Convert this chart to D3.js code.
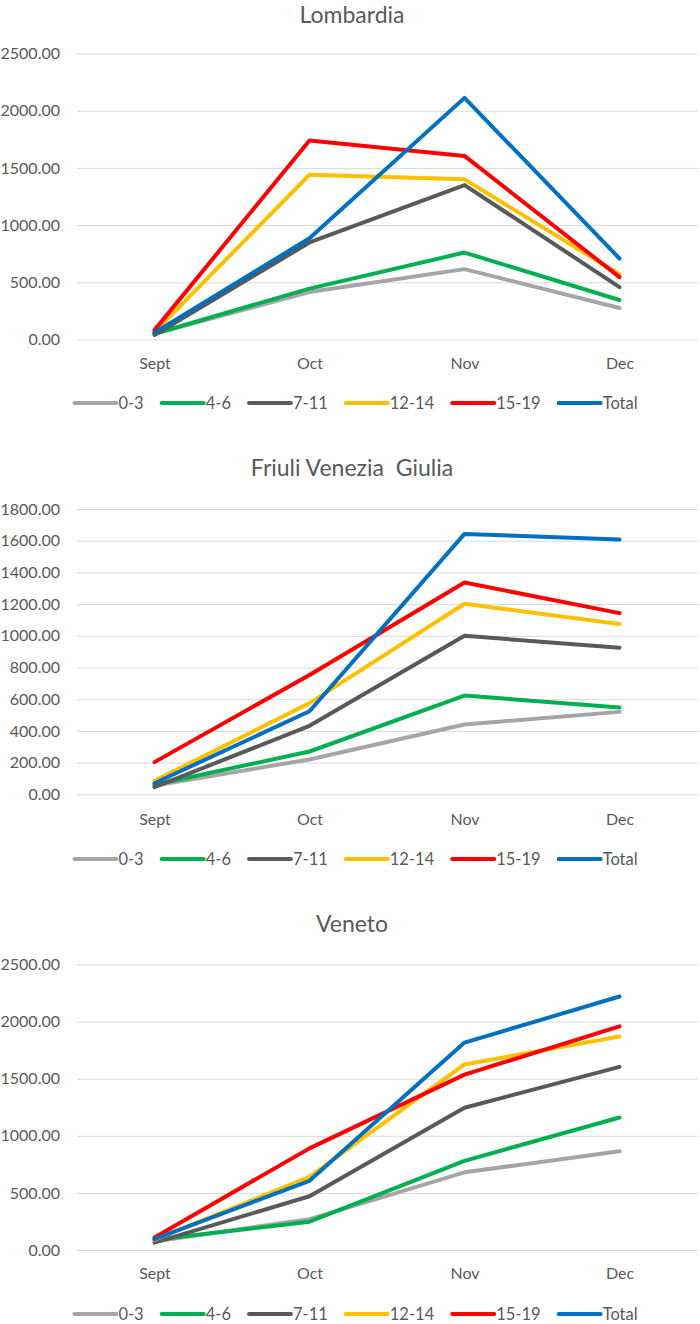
<!DOCTYPE html>
<html>
<head>
<meta charset="utf-8">
<script src="https://cdn.jsdelivr.net/npm/d3@7"></script>
<style>
  body { margin: 0; background: #fff; }
  svg text { font-family: Lato, "Open Sans", sans-serif; fill: #595959; }
</style>
</head>
<body>
<svg id="chart" width="700" height="1324"></svg>
<script>
// months on the x axis + age groups (legend)
var months = ['Sept', 'Oct', 'Nov', 'Dec'];
var groups = ['0-3', '4-6', '7-11', '12-14', '15-19', 'Total'];
var colors = ['#a5a5a5', '#00b050', '#595959', '#ffc000', '#ff0000', '#0070c0'];

// one row per group, same order as groups[]
var lombardia = [
  [50, 415, 615, 275],
  [50, 445, 760, 345],
  [40, 848, 1350, 458],
  [65, 1440, 1400, 570],
  [82, 1740, 1605, 545],
  [60, 885, 2112, 708]
];
var friuli = [
  [55, 220, 440, 520],
  [60, 270, 623, 548],
  [45, 432, 1000, 925],
  [85, 575, 1202, 1075],
  [203, 753, 1336, 1143],
  [70, 524, 1643, 1607]
];
var veneto = [
  [75, 270, 680, 865],
  [90, 248, 781, 1160],
  [65, 471, 1246, 1604],
  [90, 640, 1625, 1870],
  [110, 890, 1536, 1958],
  [95, 606, 1816, 2220]
];

var lombardiaTicks = [0, 500, 1000, 1500, 2000, 2500];
var friuliTicks = [0, 200, 400, 600, 800, 1000, 1200, 1400, 1600, 1800];
var venetoTicks = [0, 500, 1000, 1500, 2000, 2500];

var svg = d3.select('#chart');

var panels = [
  {title: 'Lombardia', data: lombardia, ticks: lombardiaTicks,
   top: 53.5, bottom: 339.5, titleY: 15, labelPad: 18, legendY: 403},
  {title: 'Friuli Venezia\u00a0 Giulia', data: friuli, ticks: friuliTicks,
   top: 509, bottom: 794.3, titleY: 468, labelPad: 19.5, legendY: 859},
  {title: 'Veneto', data: veneto, ticks: venetoTicks,
   top: 964.5, bottom: 1250, titleY: 923.5, labelPad: 17.5, legendY: 1314}
];

var x = d3.scalePoint().domain(months).range([77, 697]).padding(0.5);

panels.forEach(function(p) {
  var g = svg.append('g');
  var y = d3.scaleLinear()
    .domain([0, d3.max(p.ticks)])
    .range([p.bottom, p.top]);

  // title
  g.append('text')
    .attr('x', 352)
    .attr('y', p.titleY)
    .attr('dy', '0.35em')
    .attr('text-anchor', 'middle')
    .style('font-size', '23px')
    .text(p.title);

  // y axis = gridlines + labels
  var yAxis = g.append('g')
    .attr('transform', 'translate(77,0)')
    .call(d3.axisLeft(y)
      .tickValues(p.ticks)
      .tickFormat(d3.format('.2f'))
      .tickSize(-621)
      .tickPadding(17));
  yAxis.select('.domain').remove();
  yAxis.selectAll('.tick line').attr('stroke', '#d9d9d9');
  yAxis.selectAll('.tick text').style('font-size', '16px').attr('fill', '#595959');

  // x axis, labels only
  var xAxis = g.append('g')
    .attr('transform', 'translate(0,' + p.bottom + ')')
    .call(d3.axisBottom(x).tickSize(0).tickPadding(p.labelPad));
  xAxis.select('.domain').remove();
  xAxis.selectAll('.tick text').style('font-size', '16px').attr('fill', '#595959');

  var line = d3.line()
    .x(function(d, i) { return x(months[i]); })
    .y(function(d) { return y(d); });

  g.selectAll('path.series')
    .data(p.data)
    .enter()
    .append('path')
    .attr('class', 'series')
    .attr('d', line)
    .attr('fill', 'none')
    .attr('stroke', function(d, i) { return colors[i]; })
    .attr('stroke-width', 4)
    .attr('stroke-linejoin', 'round')
    .attr('stroke-linecap', 'round');

  // legend - lay out left to right then center it
  var leg = g.append('g');
  var cx = 0;
  groups.forEach(function(name, i) {
    var item = leg.append('g').attr('transform', 'translate(' + cx + ',0)');
    item.append('line')
      .attr('x1', 0).attr('x2', 42)
      .attr('y1', 0).attr('y2', 0)
      .attr('stroke', colors[i])
      .attr('stroke-width', 4)
      .attr('stroke-linecap', 'round');
    var t = item.append('text')
      .attr('x', 44)
      .attr('dy', '0.35em')
      .style('font-size', '16.5px')
      .text(name);
    cx += 44 + t.node().getComputedTextLength() + 18;
  });
  var legW = cx - 18;
  leg.attr('transform', 'translate(' + (356 - legW / 2) + ',' + p.legendY + ')');
});
</script>
</body>
</html>
